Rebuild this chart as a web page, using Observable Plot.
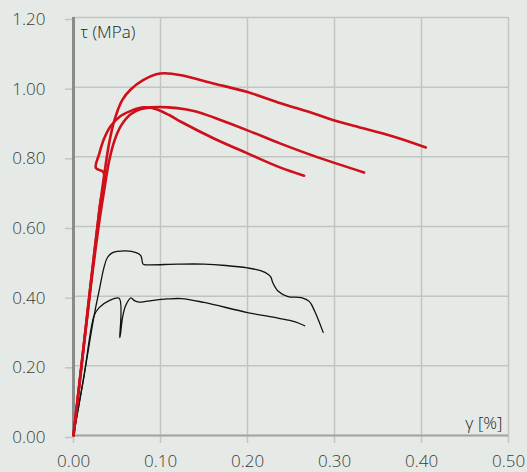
<!DOCTYPE html>
<html><head><meta charset="utf-8">
<script src="https://cdn.jsdelivr.net/npm/d3@7"></script>
<script src="https://cdn.jsdelivr.net/npm/@observablehq/plot@0.6"></script>
<style>
html,body{margin:0;padding:0;background:#e6eae6;}
</style>
</head><body><div id="chart"></div>
<script>
const xTicks = [0, 0.1, 0.2, 0.3, 0.4, 0.5];
const yTicks = [0, 0.2, 0.4, 0.6, 0.8, 1.0, 1.2];
const xLabel = "γ [%]";
const yLabel = "τ (MPa)";

// red specimens
const redA_gamma = [0,0.01,0.02,0.03,0.036,0.041,0.047,0.056,0.066,0.08,0.095,0.105,0.124,0.162,0.2,0.238,0.277,0.299,0.334,0.372,0.405];
const redA_tau   = [0,0.22,0.44,0.65,0.76,0.84,0.905,0.963,0.994,1.02,1.037,1.04,1.034,1.01,0.986,0.954,0.924,0.905,0.881,0.855,0.827];
const redB_gamma = [0,0.01,0.02,0.03,0.035,0.041,0.047,0.0545,0.066,0.0775,0.089,0.109,0.13,0.143,0.162,0.2,0.238,0.277,0.334];
const redB_tau   = [0,0.215,0.43,0.62,0.70,0.789,0.846,0.889,0.923,0.937,0.942,0.942,0.936,0.929,0.912,0.876,0.838,0.802,0.755];
const redC_gamma = [0,0.01,0.02,0.03,0.0346,0.0257,0.0295,0.035,0.043,0.0545,0.066,0.081,0.0935,0.11,0.124,0.162,0.2,0.238,0.265];
const redC_tau   = [0,0.22,0.44,0.655,0.755,0.768,0.808,0.851,0.889,0.918,0.932,0.942,0.938,0.92,0.90,0.852,0.81,0.769,0.746];

// black specimens
const blackD_gamma = [0,0.012,0.0237,0.0295,0.035,0.039,0.045,0.06,0.072,0.0775,0.08,0.085,0.12,0.15,0.175,0.2,0.215,0.224,0.227,0.229,0.235,0.2465,0.262,0.271,0.277,0.287];
const blackD_tau   = [0,0.17,0.344,0.416,0.482,0.511,0.525,0.53,0.525,0.516,0.492,0.49,0.492,0.492,0.488,0.481,0.473,0.462,0.454,0.439,0.415,0.399,0.396,0.385,0.358,0.296];
const blackE_gamma = [0,0.012,0.0237,0.0295,0.041,0.0525,0.0533,0.0564,0.06,0.066,0.07,0.0756,0.083,0.108,0.124,0.15,0.2,0.235,0.254,0.2657];
const blackE_tau   = [0,0.17,0.344,0.367,0.387,0.394,0.281,0.339,0.373,0.395,0.387,0.383,0.385,0.392,0.393,0.382,0.353,0.337,0.327,0.315];

function series(name, gs, ts) { return gs.map((g, i) => ({series: name, gamma: g, tau: ts[i]})); }
const redData = [
  ...series("A", redA_gamma, redA_tau),
  ...series("B", redB_gamma, redB_tau),
  ...series("C", redC_gamma, redC_tau)
];
const blackData = [
  ...series("D", blackD_gamma, blackD_tau),
  ...series("E", blackE_gamma, blackE_tau)
];

const fmt = d3.format(".2f");
const gridColor = "#c2c4c2";
const textColor = "#3a3a3a";

const chart = Plot.plot({
  width: 527, height: 472,
  marginLeft: 73, marginRight: 19, marginTop: 17, marginBottom: 37,
  style: {background: "#e6eae6", fontFamily: "'Open Sans', sans-serif", fontSize: "17px", color: textColor, fontWeight: 300},
  x: {domain: [0, 0.5]},
  y: {domain: [0, 1.2]},
  marks: [
    Plot.gridX(xTicks, {stroke: gridColor, strokeOpacity: 1, strokeWidth: 1.5}),
    Plot.gridY(yTicks, {stroke: gridColor, strokeOpacity: 1, strokeWidth: 1.5}),
    Plot.axisX(xTicks, {tickSize: 8, tickPadding: 11, stroke: gridColor, strokeWidth: 1.5, fill: textColor, tickFormat: fmt, label: null}),
    Plot.axisY(yTicks, {tickSize: 8, tickPadding: 20, stroke: gridColor, strokeWidth: 1.5, fill: textColor, tickFormat: fmt, label: null, dy: 2}),
    Plot.ruleY([0], {stroke: "#a2a4a2", strokeWidth: 2}),
    Plot.ruleX([0], {stroke: "#8a8c8a", strokeWidth: 3}),
    Plot.line(blackData, {x: "gamma", y: "tau", z: "series", stroke: "#111", strokeWidth: 1.3, curve: "catmull-rom"}),
    Plot.line(redData, {x: "gamma", y: "tau", z: "series", stroke: "#cf0f1a", strokeWidth: 2.6, curve: "catmull-rom"}),
    Plot.text([yLabel], {frameAnchor: "top-left", dx: 7, dy: 8, fill: "#222", fontSize: 17, textAnchor: "start", lineAnchor: "top"}),
    Plot.text([xLabel], {frameAnchor: "bottom-right", dx: -6, dy: -7, fill: "#222", fontSize: 17, textAnchor: "end", lineAnchor: "bottom"})
  ]
});
document.getElementById("chart").appendChild(chart);
</script>
</body></html>
